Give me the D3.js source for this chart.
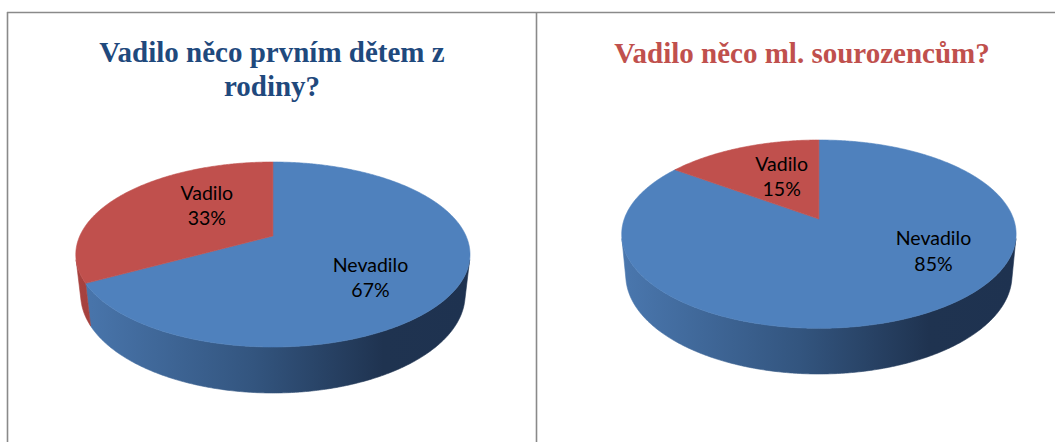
<!DOCTYPE html>
<html><head><meta charset="utf-8">
<script src="https://cdn.jsdelivr.net/npm/d3@7/dist/d3.min.js"></script>
<style>html,body{margin:0;padding:0;background:#fff}svg{display:block}</style>
</head><body>
<svg id="chart" width="1055" height="442"></svg>
<script>
// ---------- data ----------
const categoriesA = ["Nevadilo", "Vadilo"];
const valuesA = [67, 33];
const titleLinesA = ["Vadilo něco prvním dětem z", "rodiny?"];

const categoriesB = ["Nevadilo", "Vadilo"];
const valuesB = [85, 15];
const titleLinesB = ["Vadilo něco ml. sourozencům?"];

// ---------- styles / layout ----------
const topColors = {"Nevadilo": "#4F81BD", "Vadilo": "#C0504D"};
const wallStops = {
  "Nevadilo": [["0%", "#4a77ae"], ["45%", "#33557f"], ["78%", "#1f3350"], ["100%", "#1e3250"]],
  "Vadilo":   [["0%", "#a8423f"], ["45%", "#7a2f2d"], ["100%", "#4f1d1c"]]
};

const charts = [
  {id: "a", categories: categoriesA, values: valuesA, titleLines: titleLinesA,
   titleColor: "#1F497D", titleX: 272, titleY: 61.5,
   geo: {cx: 272.9, top: 162, bottom: 347, rxObs: 197.1, q: 0.2, wallBottom: 393},
   labelNudge: {"Nevadilo": [10, 18], "Vadilo": [13, -8.5]}},
  {id: "b", categories: categoriesB, values: valuesB, titleLines: titleLinesB,
   titleColor: "#C0504D", titleX: 802, titleY: 63,
   geo: {cx: 818.9, top: 140, bottom: 328.3, rxObs: 197.2, q: 0.16, wallBottom: 374},
   labelNudge: {"Nevadilo": [67, -12], "Vadilo": [4, -4]}}
];

const svg = d3.select("#chart");
const defs = svg.append("defs");

// panel borders
const border = svg.append("g").attr("stroke", "#8a8a8a").attr("stroke-width", 1.6).attr("fill", "none");
border.append("line").attr("x1", 7).attr("x2", 1055).attr("y1", 12.5).attr("y2", 12.5);
border.append("line").attr("x1", 7.5).attr("x2", 7.5).attr("y1", 12).attr("y2", 442);
border.append("line").attr("x1", 536.5).attr("x2", 536.5).attr("y1", 12).attr("y2", 442);

function makeProj(g) {
  const q = g.q;
  const Bv = (g.bottom - g.top) * (1 - q * q) / 2;
  const apex = g.top + Bv / (1 + q);
  const A = g.rxObs * Math.sqrt(1 - q * q);
  const s = Bv / A, c = Math.sqrt(1 - s * s), d = c / q;
  const W = g.wallBottom - apex;
  const h = (W * (d - c) - A * d * s) / (A * d * c - W * s);
  function p(X, Y, Z) {
    const depth = d - Y * s + Z * c;
    return [g.cx + A * d * X / depth, apex - A * d * (Y * c + Z * s) / depth];
  }
  const sil = Math.acos(-q / (c * c)); // silhouette angle of the side wall
  return {p, h, apex, sil};
}

charts.forEach(ch => {
  const g = ch.geo;
  const P = makeProj(g);
  const pie = d3.pie().sort(null).value(d => d)(ch.values);
  const grp = svg.append("g");

  // gradients for the side walls
  Object.keys(wallStops).forEach(cat => {
    const lg = defs.append("linearGradient").attr("id", "wall-" + ch.id + "-" + cat)
      .attr("gradientUnits", "userSpaceOnUse")
      .attr("x1", g.cx - g.rxObs).attr("x2", g.cx + g.rxObs).attr("y1", 0).attr("y2", 0);
    wallStops[cat].forEach(st => lg.append("stop").attr("offset", st[0]).attr("stop-color", st[1]));
  });

  const step = Math.PI / 360;
  function samples(a0, a1) {
    const n = Math.max(2, Math.ceil((a1 - a0) / step));
    return d3.range(n + 1).map(i => a0 + (a1 - a0) * i / n);
  }
  const line = d3.line();

  // side walls
  pie.forEach((sl, i) => {
    const a0 = Math.max(sl.startAngle, P.sil), a1 = Math.min(sl.endAngle, 2 * Math.PI - P.sil);
    if (a1 <= a0) return;
    const ang = samples(a0, a1);
    const topPts = ang.map(a => P.p(Math.sin(a), 0, Math.cos(a)));
    const botPts = ang.slice().reverse().map(a => P.p(Math.sin(a), -P.h, Math.cos(a)));
    grp.append("path")
      .attr("d", line(topPts.concat(botPts)) + "Z")
      .attr("fill", "url(#wall-" + ch.id + "-" + ch.categories[i] + ")")
      .attr("stroke", "url(#wall-" + ch.id + "-" + ch.categories[i] + ")")
      .attr("stroke-width", 0.6);
  });

  // top faces
  pie.forEach((sl, i) => {
    const ang = samples(sl.startAngle, sl.endAngle);
    const pts = [P.p(0, 0, 0)].concat(ang.map(a => P.p(Math.sin(a), 0, Math.cos(a))));
    grp.append("path")
      .attr("d", line(pts) + "Z")
      .attr("fill", topColors[ch.categories[i]])
      .attr("stroke", topColors[ch.categories[i]])
      .attr("stroke-width", 0.6)
      .attr("stroke-linejoin", "round");
  });

  // data labels
  const total = d3.sum(ch.values);
  pie.forEach((sl, i) => {
    const mid = (sl.startAngle + sl.endAngle) / 2;
    const base = P.p(0.5 * Math.sin(mid), 0, 0.5 * Math.cos(mid));
    const nudge = ch.labelNudge[ch.categories[i]];
    const x = base[0] + nudge[0], yc = base[1] + nudge[1];
    const t = grp.append("text")
      .attr("text-anchor", "middle")
      .attr("font-family", "Lato, 'Liberation Sans', sans-serif")
      .attr("font-size", 19.5)
      .attr("fill", "#000");
    t.append("tspan").attr("x", x).attr("y", yc - 6).text(ch.categories[i]);
    t.append("tspan").attr("x", x).attr("y", yc + 19.5)
      .text(Math.round(ch.values[i] / total * 100) + "%");
  });

  // title
  const tt = svg.append("text")
    .attr("text-anchor", "middle")
    .attr("font-family", "'Liberation Serif', 'Times New Roman', serif")
    .attr("font-weight", "bold")
    .attr("font-size", 29)
    .attr("fill", ch.titleColor);
  ch.titleLines.forEach((ln, k) => {
    tt.append("tspan").attr("x", ch.titleX).attr("y", ch.titleY + k * 34.5).text(ln);
  });
});
</script>
</body></html>
